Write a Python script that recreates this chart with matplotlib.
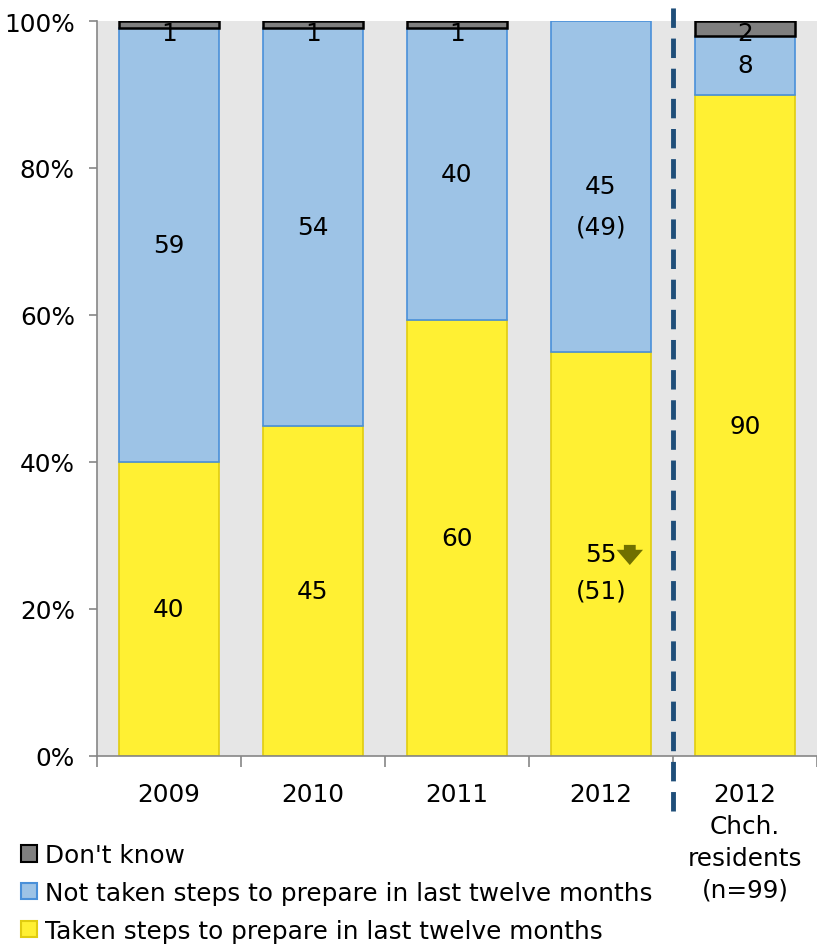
import matplotlib
matplotlib.use("Agg")
from matplotlib import pyplot as plt
from matplotlib.patches import Patch
import numpy as np

plt.rcParams['font.family'] = ['DejaVu Sans']

categories = ['2009', '2010', '2011', '2012', '2012\nChch.\nresidents\n(n=99)']
taken = [40, 44.9, 59.3, 55, 89.9]
not_taken = [59, 54.1, 39.7, 45, 8.1]
dont_know = [1, 1, 1, 0, 2]

taken_lbl = ['40', '45', '60', '55', '90']
taken_prev = ['', '', '', '(51)', '']
not_lbl = ['59', '54', '40', '45', '8']
not_prev = ['', '', '', '(49)', '']
dk_lbl = ['1', '1', '1', '', '2']

legend_labels = ["Don't know",
                 "Not taken steps to prepare in last twelve months",
                 "Taken steps to prepare in last twelve months"]

yellow, yellow_edge = '#fff033', '#e0cc10'
blue, blue_edge = '#9dc3e6', '#4a90d9'
grey, grey_edge = '#7f7f7f', '#000000'

fig = plt.figure(figsize=(8.17, 9.45), dpi=100)
ax = fig.add_axes([97 / 817, 1 - 757 / 945, 720 / 817, 735 / 945])
ax.set_facecolor('#e6e6e6')

x = np.arange(len(categories))
w = 0.69
taken = np.array(taken)
not_taken = np.array(not_taken)
dont_know = np.array(dont_know)

ax.bar(x, taken, w, color=yellow, edgecolor=yellow_edge, linewidth=1.2, zorder=2)
ax.bar(x, not_taken, w, bottom=taken, color=blue, edgecolor=blue_edge, linewidth=1.2, zorder=2)
m = dont_know > 0
ax.bar(x[m], dont_know[m], w, bottom=(taken + not_taken)[m], color=grey,
       edgecolor=grey_edge, linewidth=1.8, zorder=2)

fs = 17.8
for i in range(len(x)):
    yc = taken[i] / 2
    ax.text(x[i], yc, taken_lbl[i], ha='center', va='center', fontsize=fs, zorder=3)
    if taken_prev[i]:
        ax.text(x[i], yc - 5, taken_prev[i], ha='center', va='center', fontsize=fs, zorder=3)
    yc = taken[i] + not_taken[i] / 2
    ax.text(x[i], yc, not_lbl[i], ha='center', va='center', fontsize=fs, zorder=3)
    if not_prev[i]:
        ax.text(x[i], yc - 5.4, not_prev[i], ha='center', va='center', fontsize=fs, zorder=3)
    if dk_lbl[i]:
        ax.text(x[i], 100 - 1.7, dk_lbl[i], ha='center', va='center', fontsize=fs, zorder=3)

# significance arrow next to 2012 value
ax.annotate('', xy=(x[3] + 0.2, taken[3] / 2 - 1.9), xytext=(x[3] + 0.2, taken[3] / 2 + 1.6),
            arrowprops=dict(arrowstyle='simple,head_width=1.9,head_length=1.1,tail_width=0.85',
                            color='#707000', lw=0), zorder=4)

# separator between national and Christchurch results
ax.axvline(3.5, ymin=-55 / 735, ymax=1 + 22 / 735, color='#1f4e79', lw=3.5,
           ls=(0, (4, 2.2)), clip_on=False, zorder=5)

ax.set_xlim(-0.5, 4.5)
ax.set_ylim(0, 100)
ax.set_yticks(np.arange(0, 101, 20))
ax.set_yticklabels([f'{v}%' for v in range(0, 101, 20)], fontsize=fs)
ax.set_xticks(x)
ax.set_xticklabels(categories, fontsize=fs, linespacing=1.41, va='top')
ax.set_xticks(np.arange(-0.5, 5, 1), minor=True)
ax.tick_params(axis='x', which='major', length=0, pad=19)
ax.tick_params(axis='x', which='minor', length=8, color='#868686', width=1.2)
ax.tick_params(axis='y', length=6, color='#868686', width=1.2, pad=10)
for s in ['top', 'right']:
    ax.spines[s].set_visible(False)
for s in ['left', 'bottom']:
    ax.spines[s].set_color('#868686')
    ax.spines[s].set_linewidth(1.2)

handles = [Patch(facecolor=grey, edgecolor=grey_edge, lw=1.5),
           Patch(facecolor=blue, edgecolor=blue_edge, lw=1.5),
           Patch(facecolor=yellow, edgecolor=yellow_edge, lw=1.5)]
fig.legend(handles, legend_labels, loc='upper left', bbox_to_anchor=(0.026, 1 - 844 / 945),
           frameon=False, fontsize=fs, handlelength=0.65, handleheight=0.65,
           handletextpad=0.3, labelspacing=0.56, borderaxespad=0, borderpad=0)

fig.savefig('out.png', dpi=100)
